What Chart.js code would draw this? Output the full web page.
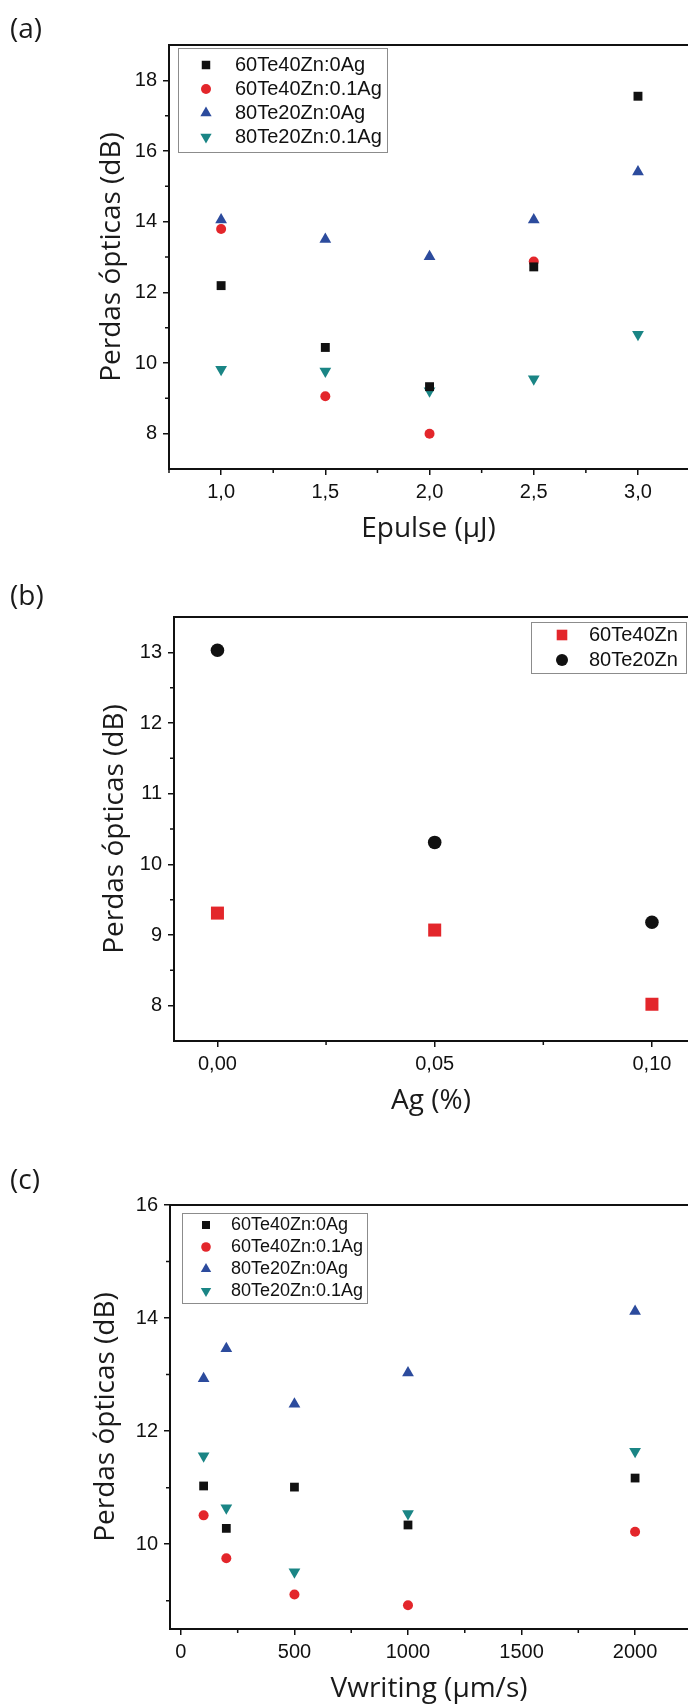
<!DOCTYPE html>
<html>
<head>
<meta charset="utf-8">
<script src="https://cdn.jsdelivr.net/npm/chart.js@4.4.1/dist/chart.umd.min.js"></script>
<style>
body{margin:0;background:#fff;}
#page{position:relative;width:688px;height:1706px;overflow:hidden;background:#fff;}
canvas{position:absolute;left:0;}
.tag{position:absolute;left:10px;font-family:'Open Sans',sans-serif;font-size:28px;line-height:28px;color:#1a1a1a;z-index:2;}
</style>
</head>
<body>
<div id="page">
  <div class="tag" style="top:13px">(a)</div>
  <div class="tag" style="top:580px">(b)</div>
  <div class="tag" style="top:1164px">(c)</div>
  <canvas id="chartA" width="688" height="560" style="top:0;width:688px;height:560px"></canvas>
  <canvas id="chartB" width="688" height="560" style="top:560px;width:688px;height:560px"></canvas>
  <canvas id="chartC" width="688" height="586" style="top:1120px;width:688px;height:586px"></canvas>
</div>
<script>
// ---- data (a): losses vs pulse energy
var epulse = [1.0, 1.5, 2.0, 2.5, 3.0];
var a60Te0Ag = [12.19, 10.44, 9.33, 12.72, 17.55];
var a60Te01Ag = [13.79, 9.06, 8.00, 12.87, null];
var a80Te0Ag = [14.05, 13.50, 13.01, 14.05, 15.41];
var a80Te01Ag = [9.82, 9.77, 9.21, 9.55, 10.81];
var aXTicks = [1.0, 1.5, 2.0, 2.5, 3.0];
var aXLabels = ['1,0', '1,5', '2,0', '2,5', '3,0'];
var aXMinor = [0.75, 1.25, 1.75, 2.25, 2.75];
var aYTicks = [8, 10, 12, 14, 16, 18];
var aYMinor = [9, 11, 13, 15, 17];

// ---- data (b): losses vs Ag content
var agPct = [0, 0.05, 0.10];
var b60Te = [9.31, 9.07, 8.02];
var b80Te = [13.03, 10.31, 9.18];
var bXTicks = [0, 0.05, 0.10];
var bXLabels = ['0,00', '0,05', '0,10'];
var bXMinor = [0.025, 0.075];
var bYTicks = [8, 9, 10, 11, 12, 13];
var bYMinor = [8.5, 9.5, 10.5, 11.5, 12.5];

// ---- data (c): losses vs writing speed
var vwriting = [100, 200, 500, 1000, 2000];
var c60Te0Ag = [11.03, 10.28, 11.01, 10.34, 11.17];
var c60Te01Ag = [10.51, 9.75, 9.11, 8.92, 10.22];
var c80Te0Ag = [12.93, 13.46, 12.48, 13.03, 14.12];
var c80Te01Ag = [11.56, 10.64, 9.51, 10.54, 11.64];
var cXTicks = [0, 500, 1000, 1500, 2000];
var cXLabels = ['0', '500', '1000', '1500', '2000'];
var cXMinor = [250, 750, 1250, 1750];
var cYTicks = [10, 12, 14, 16];
var cYMinor = [9, 11, 13, 15];

var BLACK = '#111111', RED = '#e3262b', BLUE = '#2c4b9d', TEAL = '#1a8585';
var TICKFONT = "'Liberation Sans', Arial, sans-serif";
var TITLEFONT = "'Open Sans', sans-serif";

function pts(xs, ys){
  return xs.map(function(x, i){ return {x: x, y: ys[i]}; });
}
function ds(label, xs, ys, color, style, r, rot){
  return {label: label, data: pts(xs, ys), backgroundColor: color, borderColor: color, borderWidth: 0,
    pointStyle: style, pointRadius: r, pointHoverRadius: r, pointRotation: rot || 0};
}

// minor ticks + top frame line
var minorTicks = {
  id: 'minorTicks',
  afterDraw: function(chart, args, o){
    var ctx = chart.ctx, a = chart.chartArea, xs = chart.scales.x, ys = chart.scales.y;
    ctx.save();
    ctx.strokeStyle = BLACK;
    ctx.lineWidth = 1.5;
    ctx.beginPath();
    o.x.forEach(function(v){ var p = xs.getPixelForValue(v); ctx.moveTo(p, a.bottom); ctx.lineTo(p, a.bottom + o.len); });
    o.y.forEach(function(v){ var p = ys.getPixelForValue(v); ctx.moveTo(a.left, p); ctx.lineTo(a.left - o.len, p); });
    ctx.stroke();
    ctx.lineWidth = 2;
    ctx.beginPath();
    ctx.moveTo(a.left - 1, a.top);
    ctx.lineTo(a.right, a.top);
    ctx.stroke();
    ctx.restore();
  }
};

// boxed legend like the original plot
var boxLegend = {
  id: 'boxLegend',
  afterDraw: function(chart, args, o){
    var ctx = chart.ctx;
    ctx.save();
    ctx.fillStyle = '#fff';
    ctx.fillRect(o.x, o.y, o.w, o.h);
    ctx.strokeStyle = '#8c8c8c';
    ctx.lineWidth = 1;
    ctx.strokeRect(o.x + 0.5, o.y + 0.5, o.w, o.h);
    ctx.font = o.size + 'px ' + TICKFONT;
    ctx.textBaseline = 'middle';
    ctx.textAlign = 'left';
    chart.data.datasets.forEach(function(d, i){
      var cy = o.y + o.first + i * o.row;
      ctx.fillStyle = d.backgroundColor;
      ctx.strokeStyle = d.borderColor;
      Chart.helpers.drawPoint(ctx, {pointStyle: d.pointStyle, rotation: d.pointRotation, radius: o.r[i], borderWidth: 0}, o.x + o.mx, cy);
      ctx.fillStyle = BLACK;
      ctx.fillText(d.label, o.x + o.tx, cy);
    });
    ctx.restore();
  }
};

function xAxis(min, max, ticks, labels, title, area, pad){
  return {
    type: 'linear', position: 'bottom', min: min, max: max,
    afterBuildTicks: function(s){ s.ticks = ticks.map(function(v){ return {value: v}; }); },
    afterFit: function(s){ s.height = area.h - area.bottom; },
    ticks: {autoSkip: false, maxRotation: 0, padding: 5, color: BLACK, font: {family: TICKFONT, size: 20},
      callback: function(v, i){ return labels[i]; }},
    grid: {display: true, drawOnChartArea: false, drawTicks: true, tickLength: 6, color: BLACK, lineWidth: 1.5},
    border: {display: true, color: BLACK, width: 2},
    title: {display: true, text: title, color: '#1a1a1a', font: {family: TITLEFONT, size: 28}, padding: {top: 0, bottom: pad}}
  };
}
function yAxis(min, max, ticks, area, pad){
  return {
    type: 'linear', position: 'left', min: min, max: max,
    afterBuildTicks: function(s){ s.ticks = ticks.map(function(v){ return {value: v}; }); },
    afterFit: function(s){ s.width = area.left; },
    ticks: {autoSkip: false, padding: 6, color: BLACK, font: {family: TICKFONT, size: 20},
      callback: function(v){ return String(v); }},
    grid: {display: true, drawOnChartArea: false, drawTicks: true, tickLength: 6, color: BLACK, lineWidth: 1.5},
    border: {display: true, color: BLACK, width: 2},
    title: {display: true, text: 'Perdas ópticas (dB)', color: '#1a1a1a', font: {family: TITLEFONT, size: 28}, padding: {top: pad, bottom: 0}}
  };
}

function makeChart(id, datasets, area, scales, minor, legend){
  var ctx = document.getElementById(id).getContext('2d');
  return new Chart(ctx, {
    type: 'scatter',
    data: {datasets: datasets},
    options: {
      responsive: false,
      maintainAspectRatio: false,
      animation: false,
      layout: {autoPadding: false, padding: {top: area.top, left: 0, right: 0, bottom: 0}},
      plugins: {legend: {display: false}, tooltip: {enabled: false}, minorTicks: minor, boxLegend: legend},
      scales: scales
    },
    plugins: [minorTicks, boxLegend]
  });
}

var areaA = {h: 560, top: 45, bottom: 469, left: 169};
makeChart('chartA', [
    ds('60Te40Zn:0Ag', epulse, a60Te0Ag, BLACK, 'rect', 6.3),
    ds('60Te40Zn:0.1Ag', epulse, a60Te01Ag, RED, 'circle', 5),
    ds('80Te20Zn:0Ag', epulse, a80Te0Ag, BLUE, 'triangle', 6.8),
    ds('80Te20Zn:0.1Ag', epulse, a80Te01Ag, TEAL, 'triangle', 6.8, 180)
  ], areaA,
  {x: xAxis(0.75, 3.24, aXTicks, aXLabels, 'Epulse (μJ)', areaA, 14), y: yAxis(7, 19, aYTicks, areaA, 95)},
  {x: aXMinor, y: aYMinor, len: 4},
  {x: 178, y: 48, w: 209, h: 104, first: 17, row: 24, mx: 28, tx: 57, size: 20, r: [6, 5, 6.5, 6.5]});

var areaB = {h: 560, top: 57, bottom: 481, left: 174};
makeChart('chartB', [
    ds('60Te40Zn', agPct, b60Te, RED, 'rect', 9.2),
    ds('80Te20Zn', agPct, b80Te, BLACK, 'circle', 6.8)
  ], areaB,
  {x: xAxis(-0.01, 0.1083, bXTicks, bXLabels, 'Ag (%)', areaB, 2), y: yAxis(7.5, 13.5, bYTicks, areaB, 98)},
  {x: bXMinor, y: bYMinor, len: 4},
  {x: 531, y: 62, w: 155, h: 51, first: 13, row: 25, mx: 31, tx: 58, size: 20, r: [7.5, 6]});

var areaC = {h: 586, top: 85, bottom: 509, left: 170};
makeChart('chartC', [
    ds('60Te40Zn:0Ag', vwriting, c60Te0Ag, BLACK, 'rect', 6.2),
    ds('60Te40Zn:0.1Ag', vwriting, c60Te01Ag, RED, 'circle', 5),
    ds('80Te20Zn:0Ag', vwriting, c80Te0Ag, BLUE, 'triangle', 6.8),
    ds('80Te20Zn:0.1Ag', vwriting, c80Te01Ag, TEAL, 'triangle', 6.8, 180)
  ], areaC,
  {x: xAxis(-48, 2233, cXTicks, cXLabels, 'Vwriting (μm/s)', areaC, 0), y: yAxis(8.5, 16, cYTicks, areaC, 89)},
  {x: cXMinor, y: cYMinor, len: 4},
  {x: 182, y: 93, w: 185, h: 90, first: 12, row: 22, mx: 24, tx: 49, size: 18, r: [5.7, 4.8, 6, 6]});
</script>
</body>
</html>
